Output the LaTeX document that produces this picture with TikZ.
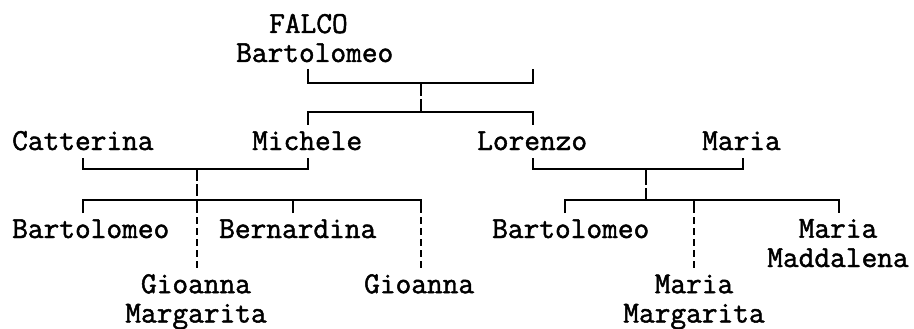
\documentclass[tikz,border=0pt]{standalone}
\usepackage{fontspec}
\newfontfamily\famfont{Latin Modern Mono}[FakeBold=1.6]
\begin{document}
\begin{tikzpicture}[x=1pt,y=-1pt,
  person/.style={inner sep=0pt,anchor=base west,font=\fontsize{30.5}{29.3}\selectfont\famfont\bfseries},
  personml/.style={inner sep=0pt,align=center,anchor=base,font=\fontsize{30.5}{29.3}\selectfont\famfont\bfseries},
  conn/.style={line width=1.8pt,black},
  link/.style={conn,dash pattern=on 13pt off 3pt},
  uncert/.style={conn,dash pattern=on 7pt off 4pt,dash phase=7pt}]
\useasboundingbox (0,0) rectangle (914,329);
% people
\node[person] (falco) at (269,33) {FALCO};
\node[person] (bart0) at (236,62) {Bartolomeo};
\node[person] (catt) at (12,150) {Catterina};
\node[person] (mich) at (252,150) {Michele};
\node[person] (lor) at (477,150) {Lorenzo};
\node[person] (maria) at (702,150) {Maria};
\node[person] (bart1) at (12,238) {Bartolomeo};
\node[person] (bern) at (219,238) {Bernardina};
\node[personml] (giomarg) at (196,322.5) {Gioanna\\Margarita};
\node[person] (gio2) at (364,293.2) {Gioanna};
\node[person] (bart2) at (492,238) {Bartolomeo};
\node[personml] (mmadd) at (838,267) {Maria\\Maddalena};
\node[personml] (mmarg) at (694,322.5) {Maria\\Margarita};
% junction points
\coordinate (a1) at (308,69);  \coordinate (a2) at (533,69);
\coordinate (ad1) at (421,83); \coordinate (ad2) at (421,112);
\coordinate (s1) at (308,125); \coordinate (s2) at (533,125);
\coordinate (b1) at (83,158);  \coordinate (b2) at (308,158);
\coordinate (bd1) at (197,169); \coordinate (bd2) at (197,200);
\coordinate (c1) at (533,158); \coordinate (c2) at (743,158);
\coordinate (cd1) at (646,169); \coordinate (cd2) at (646,200);
\coordinate (k1) at (83,213);  \coordinate (k2) at (421,213);
\coordinate (k3) at (293,213); \coordinate (k4) at (197,213);
\coordinate (e1) at (197,268); \coordinate (e2) at (421,268);
\coordinate (m1) at (565,213); \coordinate (m2) at (839,213);
\coordinate (m3) at (694,213); \coordinate (m4) at (694,200);
\coordinate (e3) at (694,268);
% couple FALCO Bartolomeo
\draw[conn] (a1) -- ++(0,14) -| (a2);
\draw[link] (ad1) -- (ad2);
\draw[conn] (s1) -- ++(0,-13) -| (s2);
% couple Catterina - Michele
\draw[conn] (b1) -- ++(0,11) -| (b2);
\draw[link,dash pattern=on 12pt off 3pt] (bd1) -- (bd2);
\draw[conn] (k1) -- ++(0,-13) -| (k2);
\draw[conn] (k3) -- (k3 |- bd2);
\draw[conn] (bd2) -- (k4);
\draw[uncert] (k4) -- (e1);
\draw[uncert] (k2) -- (e2);
% couple Lorenzo - Maria
\draw[conn] (c1) -- ++(0,11) -| (c2);
\draw[link,dash pattern=on 16pt off 3pt] (cd1) -- (cd2);
\draw[conn] (m1) -- ++(0,-13) -| (m2);
\draw[conn] (m4) -- (m3);
\draw[uncert] (m3) -- (e3);
\end{tikzpicture}
\end{document}
